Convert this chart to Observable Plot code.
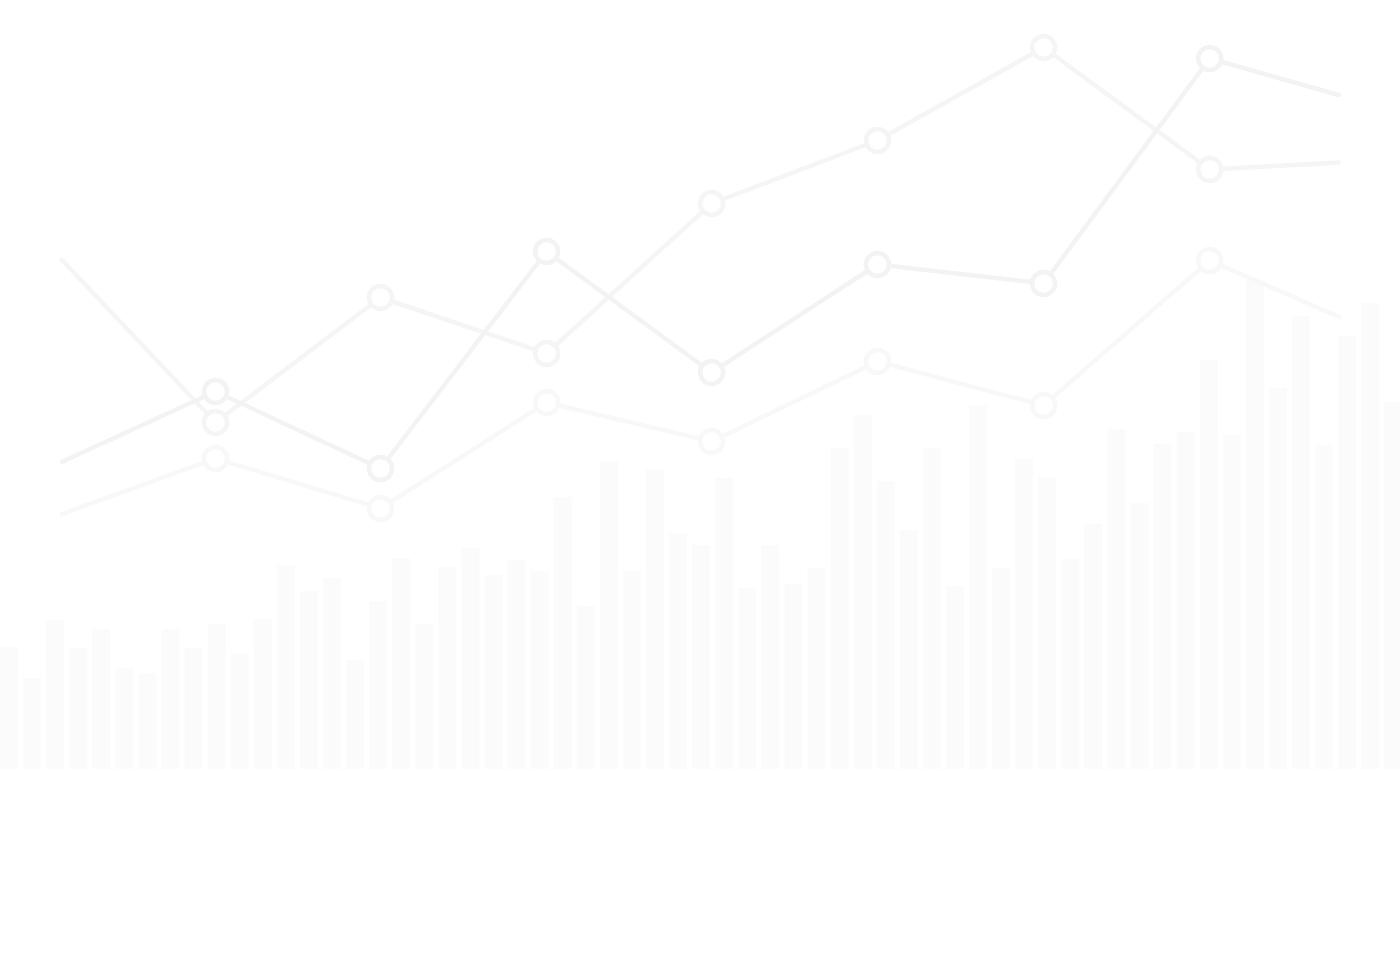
<!DOCTYPE html>
<html>
<head>
<meta charset="utf-8">
<script src="https://cdn.jsdelivr.net/npm/d3@7"></script>
<script src="https://cdn.jsdelivr.net/npm/@observablehq/plot@0.6"></script>
<style>
  html, body { margin: 0; padding: 0; background: #ffffff; }
  #chart svg { display: block; }
</style>
</head>
<body>
<div id="chart"></div>
<script>
// Bar series: 61 bars, value = height above baseline
const barValues = [122, 91, 149, 121, 140, 101, 96, 140, 121, 145, 116, 150, 204, 178, 191, 109, 168, 211, 145, 202,
  221, 194, 209, 198, 272, 163, 308, 198, 300, 236, 224, 291, 181, 224, 185, 201, 321, 354, 288, 239,
  321, 183, 364, 201, 310, 292, 210, 245, 340, 266, 325, 337, 409, 334, 489, 381, 453, 324, 433, 466, 367];
const barIndex = barValues.map((_, i) => i);

// Line series (x positions in bar-slot units)
const lineX = [2.6, 9.32, 16.47, 23.67, 30.82, 38.01, 45.21, 52.41, 58.08];
const seriesA = [511, 347, 472, 416, 566, 629, 722, 600, 607];
const seriesB = [307, 378, 301, 518, 397, 505, 486, 711, 674];
const seriesC = [255, 311, 261, 367, 328, 408, 364, 509, 452];

const seriesNames = ["A", "B", "C"];
const seriesColors = ["#f5f5f5", "#f3f3f3", "#f8f8f8"];

const slot = 1400 / 60.68;
const barWidthSlots = 18 / slot;

const bars = barIndex.map(i => ({x1: i, x2: i + barWidthSlots, v: barValues[i]}));

function pts(name, vals) {
  return vals.map((v, i) => ({series: name, x: lineX[i], v, inner: i > 0 && i < vals.length - 1}));
}
const lineData = [pts("C", seriesC), pts("A", seriesA), pts("B", seriesB)];

const marks = [
  Plot.rectY(bars, {x1: "x1", x2: "x2", y1: 0, y2: "v", fill: "#fbfbfb", inset: 0})
];
for (const d of lineData) {
  const name = d[0].series;
  const color = seriesColors[seriesNames.indexOf(name)];
  marks.push(Plot.line(d, {x: "x", y: "v", stroke: color, strokeWidth: 4.5, strokeLinecap: "butt", strokeLinejoin: "round"}));
}
for (const d of lineData) {
  const name = d[0].series;
  const color = seriesColors[seriesNames.indexOf(name)];
  marks.push(Plot.dot(d.filter(p => p.inner), {x: "x", y: "v", r: 11.5, fill: "#ffffff", stroke: color, strokeWidth: 4.5}));
}

const chart = Plot.plot({
  width: 1400,
  height: 959,
  margin: 0,
  x: {domain: [0, 60.68], range: [0, 1400], axis: null},
  y: {domain: [-190, 769], range: [959, 0], axis: null},
  style: {background: "#ffffff", overflow: "visible"},
  marks
});
document.getElementById("chart").appendChild(chart);
</script>
</body>
</html>
